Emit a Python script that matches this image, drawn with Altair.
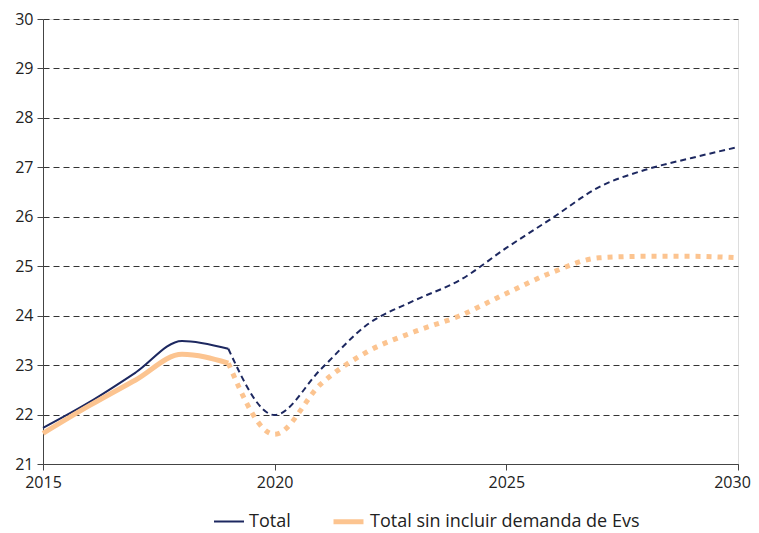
import altair as alt
import pandas as pd

years = list(range(2015, 2031))
total = [21.73, 22.25, 22.85, 23.49, 23.33, 21.99, 22.92, 23.82, 24.30, 24.72,
         25.37, 25.98, 26.60, 26.95, 27.19, 27.41]
sin_evs = [21.62, 22.18, 22.70, 23.22, 23.04, 21.60, 22.62, 23.27, 23.67, 24.00,
           24.45, 24.88, 25.17, 25.20, 25.20, 25.17]
series_names = ["Total", "Total sin incluir demanda de Evs"]
last_hist_year = 2019

rows = []
for name, vals in zip(series_names, [total, sin_evs]):
    for y, v in zip(years, vals):
        if y <= last_hist_year:
            rows.append({"year": y, "value": v, "series": name, "seg": "hist"})
        if y >= last_hist_year:
            rows.append({"year": y, "value": v, "series": name, "seg": "proj"})
df = pd.DataFrame(rows)

FONT = "Open Sans"
NAVY = "#1d2860"
ORANGE = "#fcc490"

color = alt.Color("series:N", scale=alt.Scale(domain=series_names, range=[NAVY, ORANGE]),
                  legend=alt.Legend(title=None, orient="none", direction="horizontal",
                                    legendX=170, legendY=485,
                                    symbolType="stroke", symbolSize=900, labelFontSize=18,
                                    labelFont=FONT, labelColor="#222", columnPadding=32,
                                    labelLimit=0, symbolStrokeWidth=2.5, labelOffset=4))
swidth = alt.StrokeWidth("series:N", scale=alt.Scale(domain=series_names, range=[2, 5]),
                         legend=None)

x = alt.X("year:Q", scale=alt.Scale(domain=[2015, 2030], nice=False),
          axis=alt.Axis(values=[2015, 2020, 2025, 2030], format="d", title=None, grid=False,
                        labelFontSize=16, labelFont=FONT, labelColor="#222",
                        domainColor="#444", tickColor="#444", tickSize=6, labelPadding=4,
                        labelFlush=False,
                        labelOffset={"condition": {"test": "datum.value == 2030", "value": -6},
                                     "value": 0}))
y = alt.Y("value:Q", scale=alt.Scale(domain=[21, 30], nice=False),
          axis=alt.Axis(values=list(range(21, 31)), title=None, grid=True,
                        gridDash=[6, 4], gridColor="#333", gridWidth=1,
                        labelFontSize=16, labelFont=FONT, labelColor="#222",
                        domainColor="#444", tickColor="#444", tickSize=6, labelPadding=4))

base = alt.Chart(df)

hist = base.transform_filter(alt.datum.seg == "hist").mark_line(interpolate="monotone").encode(
    x=x, y=y, color=color, strokeWidth=swidth, detail="series:N")
proj_total = base.transform_filter((alt.datum.seg == "proj") & (alt.datum.series == "Total")).mark_line(
    interpolate="monotone", strokeDash=[6, 4]).encode(x=x, y=y, color=color, strokeWidth=swidth)
proj_sin = base.transform_filter((alt.datum.seg == "proj") & (alt.datum.series != "Total")).mark_line(
    interpolate="monotone", strokeDash=[5, 6]).encode(x=x, y=y, color=color, strokeWidth=swidth)

chart = alt.layer(proj_sin, proj_total, hist).properties(
    width=695, height=445,
    autosize=alt.AutoSizeParams(type="none"),
    padding={"left": 35, "top": 11, "right": 13, "bottom": 70},
).configure_view(stroke=None).configure(font=FONT)

chart.save("out.html", embed_options={"renderer": "svg", "actions": False})
